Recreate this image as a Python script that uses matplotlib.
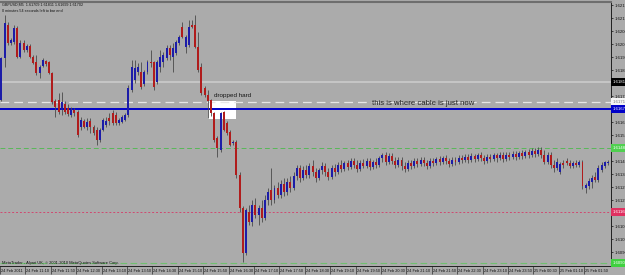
import matplotlib
matplotlib.use("Agg")
import matplotlib.pyplot as plt
import matplotlib.transforms as mtransforms
from matplotlib.patches import Rectangle

# ---------------- data (GBPUSD, M5) ----------------
opens = [1.61720, 1.61930, 1.62095, 1.62005, 1.62010, 1.62080, 1.61935, 1.62005, 1.61970, 1.61990,
         1.61935, 1.61910, 1.61855, 1.61890, 1.61915, 1.61910, 1.61855, 1.61715, 1.61720, 1.61670,
         1.61700, 1.61680, 1.61645, 1.61670, 1.61660, 1.61585, 1.61615, 1.61585, 1.61615, 1.61585,
         1.61570, 1.61520, 1.61570, 1.61595, 1.61630, 1.61655, 1.61645, 1.61605, 1.61610, 1.61620,
         1.61645, 1.61770, 1.61820, 1.61860, 1.61860, 1.61800, 1.61860, 1.61910, 1.61910, 1.61810,
         1.61885, 1.61910, 1.61930, 1.61980, 1.61935, 1.61955, 1.62005, 1.62085, 1.61985, 1.61995,
         1.62095, 1.62095, 1.61985, 1.61885, 1.61780, 1.61745, 1.61720, 1.61655, 1.61530, 1.61470,
         1.61660, 1.61605, 1.61560, 1.61505, 1.61510, 1.61345, 1.61180, 1.60955, 1.61160, 1.61110,
         1.61195, 1.61145, 1.61180, 1.61130, 1.61220, 1.61270, 1.61220, 1.61280, 1.61245, 1.61300,
         1.61260, 1.61310, 1.61280, 1.61340, 1.61380, 1.61330, 1.61370, 1.61345, 1.61390, 1.61360,
         1.61330, 1.61370, 1.61390, 1.61360, 1.61335, 1.61380, 1.61360, 1.61395, 1.61375, 1.61405,
         1.61385, 1.61415, 1.61395, 1.61375, 1.61405, 1.61390, 1.61415, 1.61385, 1.61410, 1.61395,
         1.61430, 1.61445, 1.61410, 1.61440, 1.61415, 1.61395, 1.61420, 1.61390, 1.61375, 1.61405,
         1.61390, 1.61415, 1.61400, 1.61420, 1.61405, 1.61390, 1.61415, 1.61405, 1.61425, 1.61410,
         1.61430, 1.61415, 1.61400, 1.61420, 1.61410, 1.61430, 1.61420, 1.61435, 1.61420, 1.61440,
         1.61425, 1.61445, 1.61430, 1.61415, 1.61435, 1.61425, 1.61445, 1.61430, 1.61445, 1.61425,
         1.61445, 1.61435, 1.61450, 1.61435, 1.61455, 1.61440, 1.61460, 1.61445, 1.61465, 1.61450,
         1.61470, 1.61445, 1.61410, 1.61445, 1.61395, 1.61380, 1.61360, 1.61405, 1.61415, 1.61405,
         1.61390, 1.61405, 1.61395, 1.61410, 1.61280, 1.61290, 1.61310, 1.61335, 1.61320, 1.61370,
         1.61390, 1.61405]
highs = [1.61935, 1.62145, 1.62110, 1.62030, 1.62095, 1.62090, 1.62020, 1.62020, 1.62000, 1.62000,
         1.61945, 1.61945, 1.61895, 1.61930, 1.61920, 1.61915, 1.61860, 1.61725, 1.61755, 1.61760,
         1.61715, 1.61700, 1.61685, 1.61680, 1.61670, 1.61635, 1.61625, 1.61630, 1.61630, 1.61595,
         1.61585, 1.61580, 1.61630, 1.61635, 1.61655, 1.61670, 1.61660, 1.61630, 1.61645, 1.61655,
         1.61795, 1.61920, 1.61920, 1.61905, 1.61910, 1.61870, 1.61920, 1.61970, 1.61915, 1.61920,
         1.61970, 1.61960, 1.61995, 1.61995, 1.62005, 1.62020, 1.62045, 1.62110, 1.62045, 1.62120,
         1.62120, 1.62145, 1.62060, 1.61905, 1.61790, 1.61770, 1.61725, 1.61660, 1.61540, 1.61660,
         1.61665, 1.61615, 1.61570, 1.61520, 1.61520, 1.61360, 1.61190, 1.61180, 1.61195, 1.61220,
         1.61230, 1.61195, 1.61220, 1.61245, 1.61280, 1.61380, 1.61295, 1.61310, 1.61320, 1.61330,
         1.61330, 1.61340, 1.61360, 1.61395, 1.61395, 1.61390, 1.61395, 1.61405, 1.61420, 1.61380,
         1.61380, 1.61410, 1.61405, 1.61380, 1.61395, 1.61400, 1.61410, 1.61420, 1.61415, 1.61420,
         1.61430, 1.61430, 1.61420, 1.61420, 1.61425, 1.61430, 1.61430, 1.61420, 1.61430, 1.61440,
         1.61455, 1.61460, 1.61455, 1.61455, 1.61435, 1.61435, 1.61435, 1.61410, 1.61420, 1.61420,
         1.61430, 1.61430, 1.61435, 1.61435, 1.61420, 1.61430, 1.61430, 1.61435, 1.61440, 1.61440,
         1.61445, 1.61430, 1.61435, 1.61435, 1.61445, 1.61445, 1.61450, 1.61450, 1.61455, 1.61450,
         1.61455, 1.61460, 1.61445, 1.61450, 1.61450, 1.61455, 1.61455, 1.61460, 1.61460, 1.61460,
         1.61460, 1.61465, 1.61465, 1.61465, 1.61470, 1.61470, 1.61475, 1.61480, 1.61480, 1.61485,
         1.61485, 1.61470, 1.61460, 1.61460, 1.61420, 1.61430, 1.61410, 1.61420, 1.61430, 1.61420,
         1.61415, 1.61420, 1.61420, 1.61420, 1.61305, 1.61330, 1.61345, 1.61360, 1.61395, 1.61410,
         1.61415, 1.61420]
lows = [1.61715, 1.61885, 1.61995, 1.61995, 1.62000, 1.61930, 1.61930, 1.61960, 1.61960, 1.61930,
        1.61900, 1.61845, 1.61830, 1.61885, 1.61890, 1.61850, 1.61700, 1.61635, 1.61650, 1.61645,
        1.61650, 1.61640, 1.61635, 1.61640, 1.61535, 1.61570, 1.61580, 1.61570, 1.61555, 1.61545,
        1.61495, 1.61510, 1.61565, 1.61585, 1.61595, 1.61595, 1.61595, 1.61595, 1.61605, 1.61615,
        1.61635, 1.61760, 1.61805, 1.61845, 1.61775, 1.61790, 1.61850, 1.61885, 1.61770, 1.61800,
        1.61860, 1.61885, 1.61920, 1.61920, 1.61860, 1.61945, 1.61995, 1.62030, 1.61955, 1.61985,
        1.62080, 1.61980, 1.61860, 1.61745, 1.61735, 1.61630, 1.61640, 1.61510, 1.61435, 1.61460,
        1.61565, 1.61545, 1.61490, 1.61495, 1.61330, 1.61160, 1.60910, 1.60945, 1.61095, 1.61090,
        1.61130, 1.61095, 1.61110, 1.61120, 1.61195, 1.61195, 1.61205, 1.61230, 1.61230, 1.61240,
        1.61245, 1.61260, 1.61270, 1.61320, 1.61310, 1.61320, 1.61330, 1.61330, 1.61340, 1.61310,
        1.61320, 1.61350, 1.61340, 1.61320, 1.61325, 1.61340, 1.61350, 1.61360, 1.61365, 1.61370,
        1.61375, 1.61380, 1.61360, 1.61365, 1.61380, 1.61380, 1.61370, 1.61375, 1.61380, 1.61385,
        1.61410, 1.61395, 1.61400, 1.61400, 1.61380, 1.61385, 1.61370, 1.61360, 1.61365, 1.61375,
        1.61380, 1.61385, 1.61390, 1.61390, 1.61375, 1.61380, 1.61390, 1.61395, 1.61395, 1.61400,
        1.61400, 1.61385, 1.61390, 1.61395, 1.61400, 1.61405, 1.61410, 1.61405, 1.61410, 1.61410,
        1.61415, 1.61415, 1.61400, 1.61405, 1.61410, 1.61415, 1.61410, 1.61420, 1.61410, 1.61415,
        1.61420, 1.61425, 1.61420, 1.61425, 1.61425, 1.61430, 1.61430, 1.61435, 1.61435, 1.61440,
        1.61430, 1.61400, 1.61400, 1.61380, 1.61360, 1.61370, 1.61350, 1.61380, 1.61395, 1.61380,
        1.61380, 1.61385, 1.61385, 1.61275, 1.61255, 1.61275, 1.61280, 1.61310, 1.61310, 1.61360,
        1.61380, 1.61395]
closes = [1.61930, 1.62105, 1.62005, 1.62020, 1.62080, 1.61935, 1.62005, 1.61970, 1.61990, 1.61935,
          1.61905, 1.61855, 1.61885, 1.61920, 1.61900, 1.61855, 1.61710, 1.61685, 1.61660, 1.61710,
          1.61660, 1.61650, 1.61670, 1.61655, 1.61545, 1.61620, 1.61585, 1.61610, 1.61585, 1.61555,
          1.61520, 1.61570, 1.61620, 1.61615, 1.61615, 1.61605, 1.61605, 1.61620, 1.61635, 1.61645,
          1.61780, 1.61885, 1.61880, 1.61885, 1.61785, 1.61860, 1.61910, 1.61905, 1.61785, 1.61910,
          1.61935, 1.61945, 1.61980, 1.61945, 1.61980, 1.62010, 1.62035, 1.62035, 1.62035, 1.62085,
          1.62085, 1.61985, 1.61870, 1.61755, 1.61745, 1.61715, 1.61655, 1.61520, 1.61480, 1.61655,
          1.61570, 1.61555, 1.61495, 1.61510, 1.61345, 1.61180, 1.60955, 1.61170, 1.61110, 1.61195,
          1.61145, 1.61180, 1.61130, 1.61220, 1.61260, 1.61220, 1.61280, 1.61245, 1.61300, 1.61260,
          1.61310, 1.61280, 1.61340, 1.61380, 1.61330, 1.61370, 1.61345, 1.61390, 1.61360, 1.61330,
          1.61370, 1.61390, 1.61360, 1.61335, 1.61380, 1.61360, 1.61395, 1.61375, 1.61405, 1.61385,
          1.61415, 1.61395, 1.61375, 1.61405, 1.61390, 1.61415, 1.61385, 1.61410, 1.61395, 1.61430,
          1.61445, 1.61410, 1.61440, 1.61415, 1.61395, 1.61420, 1.61390, 1.61375, 1.61405, 1.61390,
          1.61415, 1.61400, 1.61420, 1.61405, 1.61390, 1.61415, 1.61405, 1.61425, 1.61410, 1.61430,
          1.61415, 1.61400, 1.61420, 1.61410, 1.61430, 1.61420, 1.61435, 1.61420, 1.61440, 1.61425,
          1.61445, 1.61430, 1.61415, 1.61435, 1.61425, 1.61445, 1.61430, 1.61445, 1.61425, 1.61445,
          1.61435, 1.61450, 1.61435, 1.61455, 1.61440, 1.61460, 1.61445, 1.61465, 1.61450, 1.61470,
          1.61445, 1.61410, 1.61445, 1.61395, 1.61380, 1.61410, 1.61400, 1.61395, 1.61405, 1.61390,
          1.61405, 1.61395, 1.61410, 1.61290, 1.61295, 1.61315, 1.61330, 1.61320, 1.61380, 1.61395,
          1.61410, 1.61405]

time_labels = ["24 Feb 2011", "24 Feb 11:10", "24 Feb 11:50", "24 Feb 12:30", "24 Feb 13:10",
               "24 Feb 13:50", "24 Feb 14:30", "24 Feb 15:10", "24 Feb 15:50", "24 Feb 16:30",
               "24 Feb 17:10", "24 Feb 17:50", "24 Feb 18:30", "24 Feb 19:10", "24 Feb 19:50",
               "24 Feb 20:30", "24 Feb 21:10", "24 Feb 21:50", "24 Feb 22:30", "24 Feb 23:10",
               "24 Feb 23:50", "25 Feb 00:30", "25 Feb 01:10", "25 Feb 01:50"]
label_every = 8
price_ticks = [1.62195, 1.62130, 1.62065, 1.62000, 1.61935, 1.61870, 1.61805, 1.61740, 1.61675,
               1.61610, 1.61545, 1.61480, 1.61415, 1.61350, 1.61285, 1.61220, 1.61155, 1.61090,
               1.61025, 1.60960, 1.60895]

# horizontal lines
grey_line = 1.61810
white_line = 1.61710
blue_line = 1.61675
green_line = 1.61480
red_line = 1.61160
green_line2 = 1.60905

# annotation box (bar index range and price range)
box_x0, box_x1 = 65.2, 74.0
box_p0, box_p1 = 1.61625, 1.61715

header1 = "GBPUSD,M5  1.61709 1.61811 1.61699 1.61702"
header2 = "0 minutes 54 seconds left to bar end"
footer = "MetaTrader - Alpari UK, \u00a9 2001-2010 MetaQuotes Software Corp."

# ---------------- style ----------------
BG = "#ababab"
BULL = "#1c1ca8"
BEAR = "#b01c1c"
WICK = "#4a4a4a"
FONT = "Liberation Sans"

W, H = 625, 275
fig = plt.figure(figsize=(W / 100, H / 100), dpi=100, facecolor=BG)
ax_left, ax_right, ax_top, ax_bot = 0, 610.5, 2, 266
ax = fig.add_axes([ax_left / W, 1 - ax_bot / H, (ax_right - ax_left) / W, (ax_bot - ax_top) / H])
ax.set_facecolor(BG)

n = len(opens)
idx = list(range(n))
ax.set_xlim(-0.28, 191.82)
ax.set_ylim(1.6089, 1.6221)

# white box
ax.add_patch(Rectangle((box_x0, box_p0), box_x1 - box_x0, box_p1 - box_p0,
                       facecolor="white", edgecolor="none", zorder=1))

# horizontal lines
ax.axhline(grey_line, color="#cdcdcd", lw=1.1, zorder=2)
ax.axhline(white_line, color="#e6e6e6", lw=0.9, ls=(0, (7, 4)), zorder=2)
ax.axhline(blue_line, color="#0000c8", lw=1.4, zorder=2)
ax.axhline(green_line, color="#58b858", lw=0.7, ls=(0, (5, 3)), zorder=2)
ax.axhline(red_line, color="#d04870", lw=0.7, ls=(0, (2, 2)), zorder=2)
ax.axhline(green_line2, color="#70c070", lw=0.8, ls=(0, (6, 3)), zorder=2)

# candles
ax.vlines(idx, lows, highs, color=WICK, lw=0.6, zorder=3)
for i in idx:
    o, c = opens[i], closes[i]
    col = BULL if c >= o else BEAR
    lo, hi = min(o, c), max(o, c)
    h = max(hi - lo, 0.00004)
    ax.bar(i, h, bottom=lo, width=0.62, color=col, edgecolor="none", zorder=4)

# spines
ax.spines["left"].set_visible(False)
ax.spines["top"].set_color("#6e6e6e")
ax.spines["top"].set_linewidth(1.5)
ax.spines["right"].set_color("#202020")
ax.spines["right"].set_linewidth(0.7)
ax.spines["bottom"].set_color("#202020")
ax.spines["bottom"].set_linewidth(0.7)

line_prices = [grey_line, white_line, blue_line, green_line, red_line, green_line2]

# y ticks on right (labels hidden where a line label covers them)
ax.yaxis.tick_right()
ax.set_yticks(price_ticks)
ylabels = []
for p in price_ticks:
    covered = any(abs(p - lp) < 0.00025 for lp in line_prices)
    ylabels.append("" if covered else f"{p:.5f}")
ax.set_yticklabels(ylabels, fontsize=3.1, family=FONT)
ax.tick_params(axis="y", length=1.5, width=0.5, pad=1.5, colors="#101010")

# x ticks
xt = [k * label_every - 0.45 for k in range(len(time_labels))]
ax.set_xticks(xt)
ax.set_xticklabels([])
ax.tick_params(axis="x", length=6, width=0.5, direction="out", colors="#303030")
trans = mtransforms.blended_transform_factory(ax.transData, ax.transAxes)
for k, lab in enumerate(time_labels):
    ax.text(xt[k] + 0.3, -0.018, lab, transform=trans, fontsize=2.75, family=FONT,
            ha="left", va="center", color="#101010", clip_on=False)

# price labels of horizontal lines
ytrans = mtransforms.blended_transform_factory(ax.transAxes, ax.transData)
def line_label(p, fc, tc):
    ax.text(1.004, p, f"{p:.5f}", transform=ytrans, fontsize=3.1, family=FONT,
            ha="left", va="center", color=tc, zorder=10, clip_on=False,
            bbox=dict(boxstyle="square,pad=0.35", facecolor=fc, edgecolor="none"))

line_label(grey_line, "#000000", "#ffffff")
line_label(white_line, "#f4f4f4", "#7a7a7a")
line_label(blue_line, "#0000c8", "#ffffff")
line_label(green_line, "#50d050", "#ffffff")
line_label(red_line, "#e03060", "#ffffff")
line_label(green_line2, "#40d040", "#ffffff")

# annotations
ax.text(67.0, 1.61745, "dropped hard", fontsize=4.5, family=FONT, color="#151515",
        ha="left", va="center", zorder=6)
ax.text(116.8, 1.61702, "this is where cable is just now", fontsize=5.6, family=FONT,
        color="#262626", ha="left", va="center", zorder=6)

fig.text(2 / W, 1 - 4.5 / H, header1, fontsize=2.7, family=FONT, color="#101010",
         ha="left", va="center")
fig.text(2 / W, 1 - 10.5 / H, header2, fontsize=2.7, family=FONT, color="#101010",
         ha="left", va="center")
fig.text(2 / W, 1 - 263 / H, footer, fontsize=2.85, family=FONT, color="#101010",
         ha="left", va="center")

fig.savefig("out.png", dpi=100, facecolor=BG)
